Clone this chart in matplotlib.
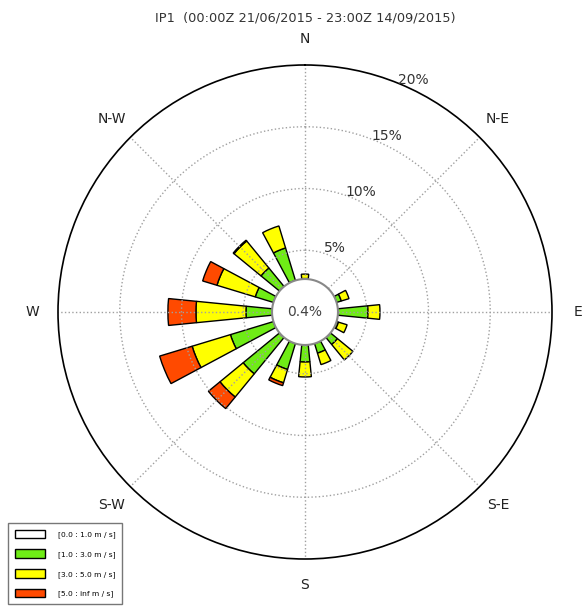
import numpy as np
import matplotlib
matplotlib.use("Agg")
import matplotlib.pyplot as plt
from matplotlib.patches import Patch

# wind rose for station IP1, summer 2015
directions = ['N', 'NNE', 'NE', 'ENE', 'E', 'ESE', 'SE', 'SSE',
              'S', 'SSW', 'SW', 'WSW', 'W', 'WNW', 'NW', 'NNW']
calm_pct = 0.4
calm_radius = 2.67   # radius of the calm disc, in % units of the radial axis

speed_bins = ['[0.0 : 1.0 m / s]', '[1.0 : 3.0 m / s]',
              '[3.0 : 5.0 m / s]', '[5.0 : inf m / s]']
bin_colors = ['white', '#6fec16', '#ffff00', '#ff4a00']

freq_0_1 = [0.0] * 16
freq_1_3 = [0.04, 0.0, 0.0, 0.40, 2.43, 0.16, 0.73, 0.81,
            1.38, 2.19, 3.81, 3.64, 2.11, 1.54, 1.94, 2.75]
freq_3_5 = [0.36, 0.0, 0.0, 0.65, 0.97, 0.73, 1.62, 0.97,
            1.21, 1.13, 2.43, 3.24, 4.05, 3.24, 2.83, 1.86]
freq_5_inf = [0.0, 0.0, 0.0, 0.0, 0.0, 0.0, 0.0, 0.0,
              0.0, 0.24, 1.21, 2.75, 2.27, 1.21, 0.08, 0.0]

rings = [5, 10, 15, 20]
compass = ['N', 'N-E', 'E', 'S-E', 'S', 'S-W', 'W', 'N-W']

fig = plt.figure(figsize=(5.83, 6.06), dpi=100)
ax = fig.add_axes([58 / 583, 47 / 606, 494 / 583, 494 / 606], projection='polar')
ax.set_theta_zero_location('N')
ax.set_theta_direction(-1)

theta = np.deg2rad(np.arange(16) * 22.5)
width = 0.5 * 2 * np.pi / 16

bottom = np.full(16, calm_radius)
for freqs, color in zip([freq_0_1, freq_1_3, freq_3_5, freq_5_inf], bin_colors):
    freqs = np.array(freqs)
    keep = freqs > 0
    ax.bar(theta[keep], freqs[keep], width=width, bottom=bottom[keep],
           color=color, edgecolor='black', linewidth=1.0, zorder=1)
    bottom = bottom + freqs

# calm disc in the middle
circ = np.linspace(0, 2 * np.pi, 200)
ax.fill(circ, np.full_like(circ, calm_radius), facecolor='white',
        edgecolor='#888888', linewidth=1.5, zorder=3)
ax.text(0, 0, '%.1f%%' % calm_pct, ha='center', va='center',
        fontsize=10, color='#444444', zorder=4)

ax.set_ylim(0, 20)
ax.set_yticks(rings[:-1])
ax.set_yticklabels([])
ax.set_xticks(np.deg2rad(np.arange(8) * 45))
ax.set_xticklabels([])
ax.grid(True, color='#a0a0a0', linestyle=':', linewidth=1.0)
ax.spines['polar'].set_color('black')
ax.spines['polar'].set_linewidth(1.2)

for r in rings:
    ax.text(np.deg2rad(25), r + 0.75, '%d%%' % r, ha='center', va='center',
            fontsize=10, color='#333333')

for i, name in enumerate(compass):
    ax.text(np.deg2rad(i * 45), 22.1, name, ha='center', va='center',
            fontsize=10, color='#222222', clip_on=False)

fig.text(305 / 583, 1 - 18 / 606, 'IP1  (00:00Z 21/06/2015 - 23:00Z 14/09/2015)',
         ha='center', va='center', fontsize=9.3, color='#333333')

handles = [Patch(facecolor=c, edgecolor='black', linewidth=1.0) for c in bin_colors]
leg = fig.legend(handles, speed_bins, loc='upper left',
                 bbox_to_anchor=(8 / 583, 1 - 523 / 606), fontsize=5.4,
                 handlelength=4.0, handleheight=1.35, labelspacing=1.5,
                 handletextpad=1.7, borderpad=0.9, borderaxespad=0,
                 fancybox=False, framealpha=1)
leg.get_frame().set_edgecolor('#777777')

fig.savefig('out.png', dpi=100)
